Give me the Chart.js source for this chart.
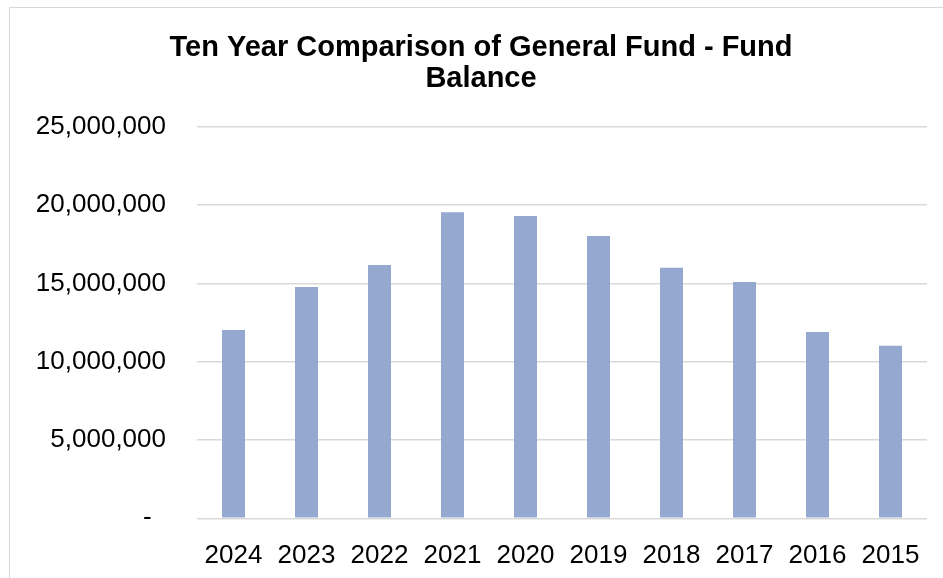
<!DOCTYPE html>
<html>
<head>
<meta charset="utf-8">
<title>Ten Year Comparison of General Fund - Fund Balance</title>
<script src="https://cdn.jsdelivr.net/npm/chart.js@4.4.1/dist/chart.umd.min.js"></script>
<style>
  html, body { margin: 0; padding: 0; background: #fff; overflow: hidden; }
  #frame {
    position: absolute; left: 9px; top: 7px;
    width: 950px; height: 571px;
    border-top: 1px solid #d9d9d9; border-left: 1px solid #d9d9d9;
  }
  #fund { display: block; }
</style>
</head>
<body>
<div id="frame">
  <canvas id="fund" width="950" height="570"></canvas>
</div>
<script>
// fiscal years, newest first (as in the source chart)
const years = ["2024", "2023", "2022", "2021", "2020", "2019", "2018", "2017", "2016", "2015"];
// fund balance
const balance = [12020000, 14770000, 16170000, 19540000, 19300000, 18030000, 15990000, 15090000, 11900000, 11010000];
const titleLines = ["Ten Year Comparison of General Fund - Fund", "Balance"];
const yMax = 25000000;
const yStep = 5000000;

const font = "'Liberation Sans', Arial, sans-serif";

function fmt(v) {
  if (v === 0) return "-  ";
  return v.toLocaleString("en-US");
}

var ctx = document.getElementById("fund").getContext("2d");
var fundChart = new Chart(ctx, {
  type: "bar",
  data: {
    labels: years,
    datasets: [
      {
        label: "Fund Balance",
        data: balance,
        backgroundColor: "#95a9d0",
        borderWidth: 0,
        barPercentage: 0.315,
        categoryPercentage: 1,
      },
    ],
  },
  options: {
    responsive: false,
    animation: false,
    // left/right padding keep the title roughly centred where the original has it
    layout: { padding: { left: 25, right: 33, top: 0, bottom: 0 } },
    plugins: {
      legend: { display: false },
      tooltip: { enabled: false },
      title: {
        display: true,
        text: titleLines,
        color: "#000",
        font: { family: font, size: 29, weight: "bold", lineHeight: 1.05 },
        padding: { top: 25, bottom: 32.8 },
      },
    },
    scales: {
      x: {
        grid: { display: false },
        border: { display: false },
        ticks: {
          color: "#000",
          font: { family: font, size: 26 },
          padding: 14,
          maxRotation: 0,
          autoSkip: false,
        },
        afterFit: function (s) { s.height = 59.7; },
      },
      y: {
        min: 0,
        max: yMax,
        border: { display: false },
        grid: { color: "#d9d9d9", lineWidth: 1.5, drawTicks: false },
        ticks: {
          stepSize: yStep,
          color: "#000",
          font: { family: font, size: 26 },
          padding: 31,
          callback: function (v) { return fmt(v); },
        },
        afterFit: function (s) { s.width = 162; },
      },
    },
  },
});
</script>
</body>
</html>
